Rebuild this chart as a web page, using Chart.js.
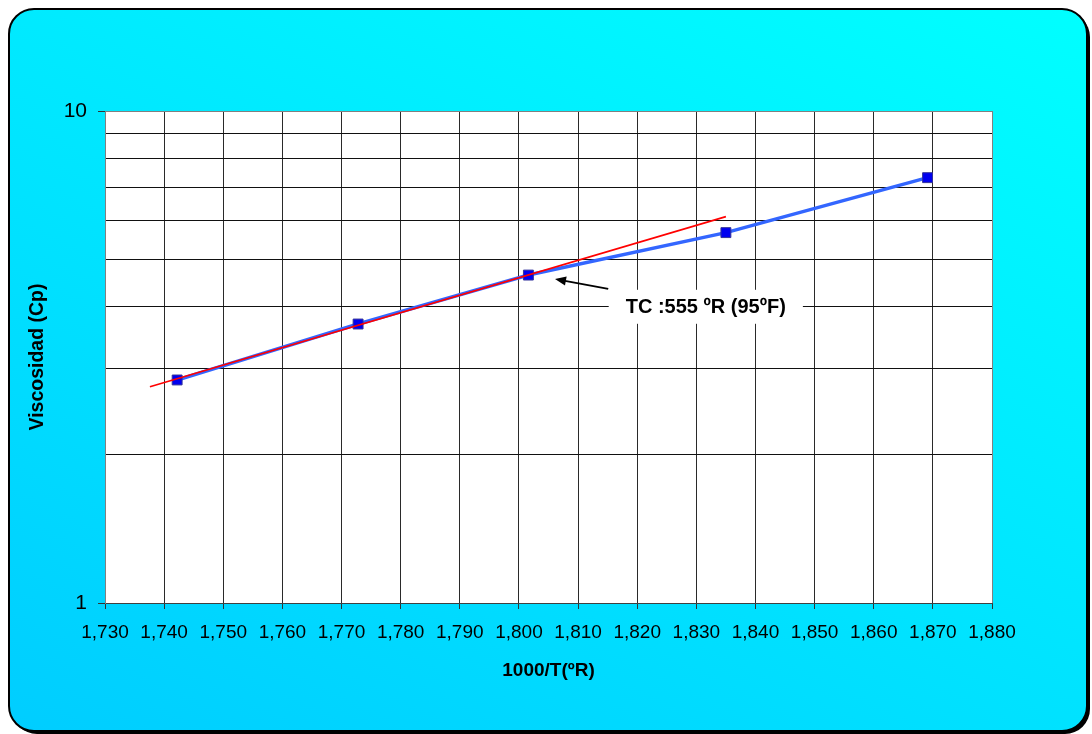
<!DOCTYPE html>
<html><head><meta charset="utf-8">
<script src="https://cdn.jsdelivr.net/npm/chart.js@4.4.1/dist/chart.umd.min.js"></script>
<style>html,body{margin:0;padding:0;background:#fff;overflow:hidden}#wrap{width:1092px;height:734px;position:relative}</style>
</head><body><div id="wrap"><canvas id="c" width="1092" height="734"></canvas></div>
<script>
// ---- data ----
const invTemp   = [1.7422, 1.7728, 1.8016, 1.8350, 1.8691];
const viscosity = [2.84, 3.69, 4.64, 5.66, 7.32];
const trendX = [1.7376, 1.8350];
const trendY = [2.75, 6.10];
const xTicks = [1.73, 1.74, 1.75, 1.76, 1.77, 1.78, 1.79, 1.80, 1.81, 1.82, 1.83, 1.84, 1.85, 1.86, 1.87, 1.88];
const xTickLabels = ['1,730','1,740','1,750','1,760','1,770','1,780','1,790','1,800','1,810','1,820','1,830','1,840','1,850','1,860','1,870','1,880'];
const yGrid = [1, 2, 3, 4, 5, 6, 7, 8, 9, 10];
const yTickLabels = ['1', '', '', '', '', '', '', '', '', '10'];
const yTitle = 'Viscosidad (Cp)';
const xTitle = '1000/T(ºR)';
const annotText = 'TC :555 ºR (95ºF)';
const annotAt = [1.8316, 4.0];
const arrowFrom = [1.8151, 4.35];
const arrowTo = [1.8061, 4.555];

const W = 1092, H = 734;
const FONT = '"Liberation Sans", Arial, Helvetica, sans-serif';

function rr(ctx, x, y, w, h, r) {
  ctx.beginPath();
  ctx.moveTo(x + r, y);
  ctx.lineTo(x + w - r, y);
  ctx.arcTo(x + w, y, x + w, y + r, r);
  ctx.lineTo(x + w, y + h - r);
  ctx.arcTo(x + w, y + h, x + w - r, y + h, r);
  ctx.lineTo(x + r, y + h);
  ctx.arcTo(x, y + h, x, y + h - r, r);
  ctx.lineTo(x, y + r);
  ctx.arcTo(x, y, x + r, y, r);
  ctx.closePath();
}

const bgPlugin = {
  id: 'bg',
  beforeDraw(chart) {
    const ctx = chart.ctx, a = chart.chartArea;
    ctx.save();
    ctx.fillStyle = '#fff';
    ctx.fillRect(0, 0, W, H);
    rr(ctx, 12, 12, 1078, 722, 25);
    ctx.fillStyle = '#000';
    ctx.fill();
    const g = ctx.createLinearGradient(9, 731, 491, -276);
    g.addColorStop(0, 'rgb(0,205,255)');
    g.addColorStop(1, 'rgb(0,255,255)');
    rr(ctx, 9, 9, 1078, 722, 25);
    ctx.fillStyle = g;
    ctx.fill();
    ctx.lineWidth = 2;
    ctx.strokeStyle = '#000';
    ctx.stroke();
    ctx.fillStyle = '#fff';
    ctx.fillRect(a.left, a.top, a.right - a.left, a.bottom - a.top);
    ctx.restore();
  }
};

const annotPlugin = {
  id: 'annot',
  afterDatasetsDraw(chart) {
    const ctx = chart.ctx, xs = chart.scales.x, ys = chart.scales.y;
    ctx.save();
    const px = xs.getPixelForValue(annotAt[0]);
    const py = ys.getPixelForValue(annotAt[1]);
    ctx.font = 'bold 20px ' + FONT;
    const tw = ctx.measureText(annotText).width;
    const bw = tw + 34, bh = 34;
    ctx.fillStyle = '#fff';
    ctx.fillRect(px - bw / 2, py - bh / 2, bw, bh);
    ctx.fillStyle = '#000';
    ctx.textAlign = 'center';
    ctx.textBaseline = 'middle';
    ctx.fillText(annotText, px, py + 1);
    const x1 = xs.getPixelForValue(arrowFrom[0]), y1 = ys.getPixelForValue(arrowFrom[1]);
    const x2 = xs.getPixelForValue(arrowTo[0]),   y2 = ys.getPixelForValue(arrowTo[1]);
    const ang = Math.atan2(y2 - y1, x2 - x1);
    ctx.strokeStyle = '#000';
    ctx.lineWidth = 2;
    ctx.beginPath();
    ctx.moveTo(x1, y1);
    ctx.lineTo(x2 - 6 * Math.cos(ang), y2 - 6 * Math.sin(ang));
    ctx.stroke();
    const L = 11, hw = 4.5;
    ctx.beginPath();
    ctx.moveTo(x2, y2);
    ctx.lineTo(x2 - L * Math.cos(ang) + hw * Math.sin(ang), y2 - L * Math.sin(ang) - hw * Math.cos(ang));
    ctx.lineTo(x2 - L * Math.cos(ang) - hw * Math.sin(ang), y2 - L * Math.sin(ang) + hw * Math.cos(ang));
    ctx.closePath();
    ctx.fillStyle = '#000';
    ctx.fill();
    ctx.restore();
  }
};

new Chart(document.getElementById('c'), {
  type: 'scatter',
  data: {
    datasets: [
      {
        label: 'Tendencia',
        data: trendX.map((x, i) => ({ x, y: trendY[i] })),
        showLine: true,
        borderColor: '#ff0000',
        borderWidth: 1.6,
        pointRadius: 0,
        fill: false,
        order: 0
      },
      {
        label: 'Viscosidad',
        data: invTemp.map((x, i) => ({ x, y: viscosity[i] })),
        showLine: true,
        borderColor: '#3366ff',
        borderWidth: 3.5,
        pointStyle: 'rect',
        pointRadius: 7,
        pointBackgroundColor: '#0000f0',
        pointBorderColor: '#33339a',
        pointBorderWidth: 1,
        fill: false,
        order: 1
      }
    ]
  },
  options: {
    responsive: false,
    animation: false,
    devicePixelRatio: 1,
    layout: { padding: { left: 0, top: 111, right: 100, bottom: 0 } },
    plugins: { legend: { display: false }, tooltip: { enabled: false } },
    scales: {
      x: {
        type: 'linear',
        min: 1.73, max: 1.88,
        afterBuildTicks: s => { s.ticks = xTicks.map(v => ({ value: v })); },
        afterFit: s => { s.height = 131; },
        ticks: {
          autoSkip: false, maxRotation: 0, minRotation: 0,
          padding: 12,
          color: '#000',
          font: { family: FONT, size: 19 },
          callback: (v, i) => xTickLabels[i]
        },
        grid: {
          color: c => (c.tick && c.tick.value === 1.88) ? '#808080' : '#2a2a2a',
          lineWidth: 1,
          tickLength: 6,
          tickColor: '#333'
        },
        border: { display: true, color: '#404040', width: 1 },
        title: {
          display: true, text: xTitle, color: '#000',
          font: { family: FONT, size: 19, weight: 'bold' },
          padding: { top: 0, bottom: 52 }
        }
      },
      y: {
        type: 'logarithmic',
        min: 1, max: 10,
        afterBuildTicks: s => { s.ticks = yGrid.map(v => ({ value: v })); },
        afterFit: s => { s.width = 105; },
        ticks: {
          autoSkip: false,
          padding: 11,
          color: '#000',
          font: { family: FONT, size: 21 },
          callback: (v, i) => yTickLabels[i]
        },
        grid: {
          color: c => (c.tick && c.tick.value === 10) ? '#808080' : '#111',
          lineWidth: 1,
          tickLength: 7,
          tickColor: c => (c.tick && (c.tick.value === 1 || c.tick.value === 10)) ? '#333' : 'rgba(0,0,0,0)'
        },
        border: { display: true, color: '#808080', width: 1 },
        title: {
          display: true, text: yTitle, color: '#000',
          font: { family: FONT, size: 19.5, weight: 'bold' },
          padding: { top: 26, bottom: 0 }
        }
      }
    }
  },
  plugins: [bgPlugin, annotPlugin]
});
</script>
</body></html>
